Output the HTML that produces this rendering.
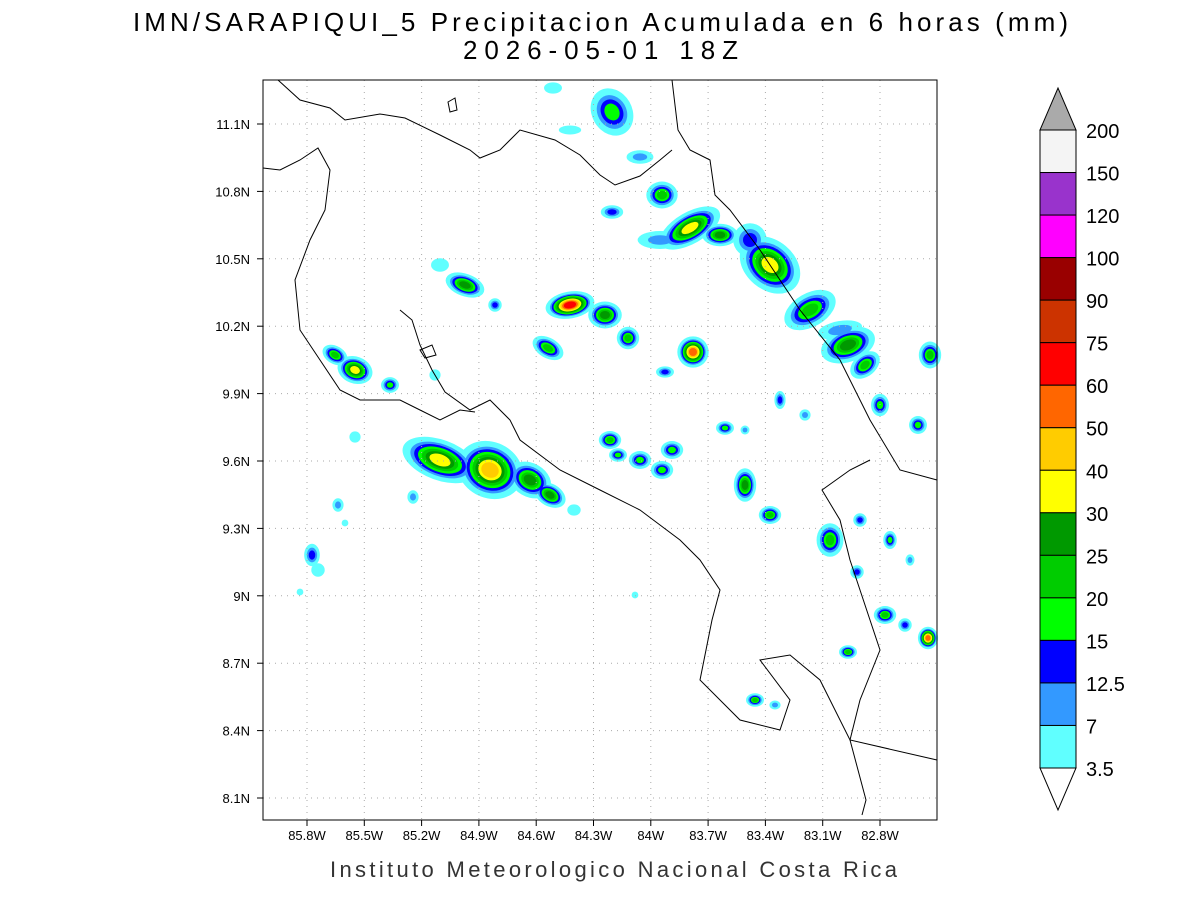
<!DOCTYPE html>
<html><head><meta charset="utf-8"><style>
html,body{margin:0;padding:0;background:#fff;width:1200px;height:900px;overflow:hidden}
svg text{font-family:"Liberation Sans","DejaVu Sans",sans-serif}
</style></head><body>
<svg id="s" width="1200" height="900" xmlns="http://www.w3.org/2000/svg">
<text x="133" y="31" font-size="26" textLength="935" lengthAdjust="spacing" fill="#000">IMN/SARAPIQUI_5 Precipitacion Acumulada en 6 horas (mm)</text>
<text x="463" y="59" font-size="26" textLength="275" lengthAdjust="spacing" fill="#000">2026-05-01 18Z</text>
<text x="330" y="877" font-size="22" textLength="567" lengthAdjust="spacing" fill="#333">Instituto Meteorologico Nacional Costa Rica</text>
<g id="blobs"></g>
<g id="grid" stroke="#aaa" stroke-width="1" stroke-dasharray="1,5"></g>
<g fill="none" stroke="#000" stroke-width="1">
<polyline points="278,80 300,100 330,108 345,120 380,114 405,118 440,135 470,150 480,158 500,150 520,130 555,140 580,155 600,175 615,185 640,176 660,160 672,150"/>
<polyline points="672,80 678,130 690,150 710,160 715,195 730,210 760,250 800,310 840,360 870,420 900,470 937,480"/>
<polyline points="263,168 280,170 300,160 318,148 330,170 325,210 310,240 295,280 300,330 320,360 340,390 360,400 400,400 420,410 440,420 460,410 475,412"/>
<polyline points="400,310 412,320 420,345 432,370 445,392 470,410 490,400 510,420 520,440 560,470 600,490 640,510 680,540 700,560 720,590 712,620 700,680 740,720 780,730 790,700 760,660 790,655 820,680 850,740 937,760"/>
<polyline points="870,460 850,470 822,490 840,520 850,560 870,620 880,650 860,700 850,740 866,800 862,815"/>
<polygon points="448,102 455,98 457,110 450,112"/>
<polygon points="420,350 432,345 436,355 425,358"/>
</g>
<rect x="263" y="80" width="674" height="740" fill="none" stroke="#000" stroke-width="1"/>
<g id="ticks" font-size="13" fill="#000"></g>
<g id="cbar"></g>
</svg>
<script>
const NS="http://www.w3.org/2000/svg";
function el(t,a,p){const e=document.createElementNS(NS,t);for(const k in a)e.setAttribute(k,a[k]);p.appendChild(e);return e;}
const C=["#60ffff","#3399ff","#0000ff","#00ff00","#00cc00","#009900","#ffff00","#ffcc00","#ff6600","#ff0000"];
const B=[[612,112,18,22,-30,4],[640,157,12,6,0,2],[570,130,10,4,0,1],[553,88,8,5,0,1],[662,195,14,12,0,5],[612,212,10,6,0,3],[690,228,30,14,-30,7],[720,235,16,10,0,6],[770,265,30,22,40,7],[810,310,25,15,-30,5],[848,345,25,15,-20,6],[865,365,15,10,-40,5],[840,330,20,8,-10,2],[930,355,10,12,0,5],[660,240,20,8,0,2],[750,240,15,15,0,3],
[465,285,18,10,20,6],[495,305,6,6,0,3],[440,265,8,6,0,1],[570,305,22,12,-10,10],[605,315,15,12,0,6],[628,338,10,10,0,5],[548,348,15,9,30,5],[693,352,14,14,0,9],[665,372,8,5,0,3],[335,355,12,8,30,5],[355,370,16,12,20,7],[390,385,8,7,0,4],[435,375,5,5,0,1],
[440,460,35,18,20,7],[490,470,30,25,25,8],[530,480,20,15,30,6],[550,495,15,10,30,6],[610,440,10,8,0,5],[618,455,8,6,0,4],[640,460,10,8,0,4],[662,470,10,8,0,4],[672,450,10,8,0,4],[725,428,8,6,0,4],[745,485,10,15,0,6],[770,515,10,8,0,5],[745,430,4,4,0,2],[780,400,5,8,0,3],[805,415,5,5,0,2],[830,540,12,15,0,5],[860,520,6,6,0,3],[880,405,8,10,0,4],[918,425,8,8,0,4],[890,540,6,8,0,4],[910,560,4,5,0,2],[857,572,6,6,0,3],[885,615,10,8,0,5],[905,625,6,6,0,3],[928,638,9,10,0,9],[848,652,8,6,0,5],[755,700,8,6,0,5],[775,705,5,4,0,2],[312,555,7,10,0,3],[318,570,6,6,0,1],[338,505,5,6,0,2],[355,437,5,5,0,1],[413,497,5,6,0,2],[635,595,3,3,0,1],[300,592,3,3,0,1],[574,510,6,5,0,1],[345,523,3,3,0,1]];
const g=document.getElementById("blobs");
for(let k=1;k<=10;k++){for(const b of B){if(b[5]<k)continue;const s=(k==1?1.12:1-0.8*(k-1)/b[5]);
el("ellipse",{cx:b[0],cy:b[1],rx:b[2]*s,ry:b[3]*s,fill:C[k-1],transform:`rotate(${b[4]} ${b[0]} ${b[1]})`},g);}}
const gr=document.getElementById("grid"),tk=document.getElementById("ticks");
const xl=["85.8W","85.5W","85.2W","84.9W","84.6W","84.3W","84W","83.7W","83.4W","83.1W","82.8W"];
xl.forEach((t,i)=>{const x=307+i*57.3;el("line",{x1:x,y1:80,x2:x,y2:820},gr);el("line",{x1:x,y1:820,x2:x,y2:826,stroke:"#000"},tk);const e=el("text",{x:x,y:840,"text-anchor":"middle"},tk);e.textContent=t;});
const yl=["11.1N","10.8N","10.5N","10.2N","9.9N","9.6N","9.3N","9N","8.7N","8.4N","8.1N"];
yl.forEach((t,i)=>{const y=124+i*67.4;el("line",{x1:263,y1:y,x2:937,y2:y},gr);el("line",{x1:257,y1:y,x2:263,y2:y,stroke:"#000"},tk);const e=el("text",{x:250,y:y+5,"text-anchor":"end"},tk);e.textContent=t;});
const cb=document.getElementById("cbar");
const CC=["#f4f4f4","#9933cc","#ff00ff","#990000","#cc3300","#ff0000","#ff6600","#ffcc00","#ffff00","#009900","#00cc00","#00ff00","#0000ff","#3399ff","#60ffff"];
const L=["200","150","120","100","90","75","60","50","40","30","25","20","15","12.5","7","3.5"];
const h=(768-130)/15;
el("polygon",{points:"1040,130 1076,130 1058,88",fill:"#aaa",stroke:"#000"},cb);
CC.forEach((c,i)=>{el("rect",{x:1040,y:130+i*h,width:36,height:h,fill:c,stroke:"#000"},cb);});
el("polygon",{points:"1040,768 1076,768 1058,810",fill:"#fff",stroke:"#000"},cb);
L.forEach((t,i)=>{const e=el("text",{x:1086,y:130+i*h+8,"font-size":"20",fill:"#000"},cb);e.textContent=t;});
</script>
</body></html>
